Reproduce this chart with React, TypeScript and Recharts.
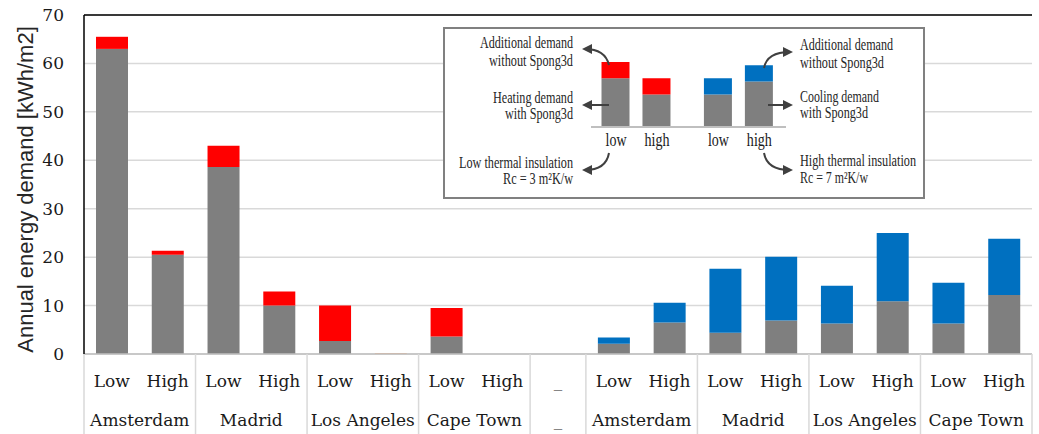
import React from "react";
import { BarChart, Bar, XAxis, YAxis, CartesianGrid, ReferenceLine } from "recharts";

// ---- main chart data ----
const levels = ["Low", "High", "Low", "High", "Low", "High", "Low", "High", "_", "Low", "High", "Low", "High", "Low", "High", "Low", "High"];
const cities = ["Amsterdam", "Amsterdam", "Madrid", "Madrid", "Los Angeles", "Los Angeles", "Cape Town", "Cape Town", "_", "Amsterdam", "Amsterdam", "Madrid", "Madrid", "Los Angeles", "Los Angeles", "Cape Town", "Cape Town"];
const baseDemand = [63.0, 20.5, 38.6, 10.0, 2.7, 0, 3.6, 0, 0, 2.1, 6.5, 4.4, 6.9, 6.3, 10.9, 6.3, 12.2];
const heatingExtra = [2.5, 0.8, 4.4, 2.9, 7.3, 0, 5.9, 0, 0, 0, 0, 0, 0, 0, 0, 0, 0];
const coolingExtra = [0, 0, 0, 0, 0, 0, 0, 0, 0, 1.3, 4.1, 13.2, 13.2, 7.8, 14.1, 8.4, 11.6];
const minorExtra = [0, 0, 0, 0, 0, 0.2, 0, 0, 0, 0, 0, 0, 0, 0, 0, 0, 0];
const yTicks = [0, 10, 20, 30, 40, 50, 60, 70];

// ---- inset illustration data ----
const insetLabels = ["low", "high", "low", "high"];
const insetPos = [0, 1, 2.5, 3.5];
const insetBase = [3, 2, 2, 2.8];
const insetHeat = [1, 1, 0, 0];
const insetCool = [0, 0, 1, 1];

const data = levels.map((l, i) => ({
  level: l,
  city: cities[i],
  base: baseDemand[i],
  heat: heatingExtra[i],
  cool: coolingExtra[i],
  minor: minorExtra[i],
}));

const insetData = insetPos.map((x, i) => ({
  x,
  label: insetLabels[i],
  base: insetBase[i],
  heat: insetHeat[i],
  cool: insetCool[i],
}));

const W = 1039;
const H = 434;
const M = { top: 15, right: 7, bottom: 0, left: 0 };
const Y_W = 84;
const X_H = 80;
const N = levels.length;
const BAND = (W - M.left - M.right - Y_W) / N;

const SERIF = "'DejaVu Serif', serif";
const TXT = "#1a1a1a";
const SEP = "#d9d9d9";

const XTick = (props: any) => {
  const { x, y, payload } = props;
  const i = payload.index;
  const half = BAND / 2;
  const isFirst = i === 0 || cities[i] !== cities[i - 1];
  let span = 1;
  while (i + span < N && cities[i + span] === cities[i]) span++;
  return (
    <g>
      <text x={x} y={y + 33} textAnchor="middle" fontFamily={SERIF} fontSize={17} fill={TXT}>
        {payload.value}
      </text>
      {isFirst && <line x1={x - half} x2={x - half} y1={y} y2={y + X_H} stroke={SEP} strokeWidth={1.5} />}
      {i === N - 1 && <line x1={x + half} x2={x + half} y1={y} y2={y + X_H} stroke={SEP} strokeWidth={1.5} />}
      {isFirst && (
        <text x={x - half + (span * BAND) / 2} y={y + 72} textAnchor="middle" fontFamily={SERIF} fontSize={17} fill={TXT}>
          {cities[i]}
        </text>
      )}
    </g>
  );
};

const YLabel = (props: any) => {
  const vb = props.viewBox || { x: 0, y: 15, height: 340 };
  const cx = 25;
  const cy = vb.y + vb.height / 2 + 5;
  return (
    <text
      x={cx}
      y={cy}
      transform={`rotate(-90, ${cx}, ${cy})`}
      textAnchor="middle"
      dominantBaseline="central"
      fontFamily="'Liberation Sans', Arial, sans-serif"
      fontSize={22}
      fill="#262626"
    >
      Annual energy demand [kWh/m2]
    </text>
  );
};

const InsetTick = (props: any) => {
  const { x, y, payload } = props;
  const lbl = insetLabels[payload.index] ?? "";
  const w = lbl === "low" ? 21 : 25;
  return (
    <text x={x} y={y + 19} textAnchor="middle" fontFamily="'Liberation Serif', serif" fontSize={18} fill={TXT} textLength={w} lengthAdjust="spacingAndGlyphs">
      {lbl}
    </text>
  );
};

const IT = ({ x, y, w, anchor, children }: any) => (
  <text x={x} y={y} textAnchor={anchor} fontFamily="'Liberation Serif', serif" fontSize={16} fill="#262626" textLength={w} lengthAdjust="spacingAndGlyphs">
    {children}
  </text>
);

const Inset = () => (
  <div style={{ position: "absolute", left: 443, top: 27, width: 482, height: 172, background: "#fff" }}>
    <div style={{ position: "absolute", left: 0, top: 0 }}>
      <BarChart width={482} height={172} data={insetData} margin={{ top: 35, right: 139, bottom: 0, left: 148 }} barSize={28}>
        <XAxis
          type="number"
          dataKey="x"
          domain={[-0.61, 4.15]}
          ticks={insetPos}
          height={72}
          axisLine={{ stroke: "#bfbfbf", strokeWidth: 2 }}
          tickLine={false}
          tickSize={0}
          tickMargin={0}
          tick={<InsetTick />}
          interval={0}
        />
        <YAxis hide domain={[0, 4]} />
        <Bar dataKey="base" stackId="a" fill="#7f7f7f" isAnimationActive={false} />
        <Bar dataKey="heat" stackId="a" fill="#ff0000" isAnimationActive={false} />
        <Bar dataKey="cool" stackId="a" fill="#0070c0" isAnimationActive={false} />
      </BarChart>
    </div>
    <svg width={482} height={172} style={{ position: "absolute", left: 0, top: 0, pointerEvents: "none" }}>
      <defs>
        <marker id="ah" markerWidth={5} markerHeight={5} refX={3.5} refY={2.5} orient="auto">
          <path d="M0,0 L5,2.5 L0,5 z" fill="#404040" />
        </marker>
      </defs>
      <rect x={1} y={1} width={480} height={170} fill="none" stroke="#808080" strokeWidth={2} />
      <g stroke="#404040" strokeWidth={2} fill="none">
        <path d="M166,38 Q162,22 142,22" markerEnd="url(#ah)" />
        <path d="M166,78 L142,78" markerEnd="url(#ah)" />
        <path d="M166,126 Q163,143 142,143" markerEnd="url(#ah)" />
        <path d="M321,41 Q324,25 347,25" markerEnd="url(#ah)" />
        <path d="M325,78 L347,78" markerEnd="url(#ah)" />
        <path d="M321,126 Q324,143 347,143" markerEnd="url(#ah)" />
      </g>
      <IT x={130} y={21} w={93} anchor="end">Additional demand</IT>
      <IT x={130} y={38.5} w={84} anchor="end">without Spong3d</IT>
      <IT x={130} y={76} w={80} anchor="end">Heating demand</IT>
      <IT x={130} y={91.5} w={68} anchor="end">with Spong3d</IT>
      <IT x={130} y={141} w={114} anchor="end">Low thermal insulation</IT>
      <IT x={130} y={156.5} w={70} anchor="end">Rc = 3 m²K/w</IT>
      <IT x={357} y={22.5} w={93} anchor="start">Additional demand</IT>
      <IT x={357} y={40.5} w={84} anchor="start">without Spong3d</IT>
      <IT x={357} y={75} w={79} anchor="start">Cooling demand</IT>
      <IT x={357} y={90.5} w={68} anchor="start">with Spong3d</IT>
      <IT x={357} y={139} w={116} anchor="start">High thermal insulation</IT>
      <IT x={357} y={155.5} w={68} anchor="start">Rc = 7 m²K/w</IT>
    </svg>
  </div>
);

export default function App() {
  return (
    <div style={{ position: "absolute", left: 0, top: 0, width: W, height: H, background: "#fff" }}>
      <BarChart width={W} height={H} data={data} margin={M} barSize={32}>
        <CartesianGrid vertical={false} stroke="#d9d9d9" strokeWidth={1.5} />
        <XAxis
          dataKey="level"
          height={X_H}
          interval={0}
          axisLine={{ stroke: "#bfbfbf", strokeWidth: 1.5 }}
          tickLine={false}
          tickSize={0}
          tickMargin={0}
          tick={<XTick />}
        />
        <YAxis
          width={Y_W}
          domain={[0, 70]}
          ticks={yTicks}
          interval={0}
          axisLine={{ stroke: "#000", strokeWidth: 1.5 }}
          tickLine={false}
          tickSize={0}
          tickMargin={20}
          tick={{ fontFamily: SERIF, fontSize: 17, fill: TXT }}
          label={<YLabel />}
        />
        <YAxis yAxisId="right" orientation="right" width={0} domain={[0, 70]} tick={false} tickLine={false} axisLine={{ stroke: "#000", strokeWidth: 1.5 }} />
        <ReferenceLine y={70} stroke="#000" strokeWidth={1.5} />
        <Bar dataKey="base" stackId="s" fill="#7f7f7f" isAnimationActive={false} />
        <Bar dataKey="heat" stackId="s" fill="#ff0000" isAnimationActive={false} />
        <Bar dataKey="cool" stackId="s" fill="#0070c0" isAnimationActive={false} />
        <Bar dataKey="minor" stackId="s" fill="#f4b183" isAnimationActive={false} />
      </BarChart>
      <Inset />
    </div>
  );
}
